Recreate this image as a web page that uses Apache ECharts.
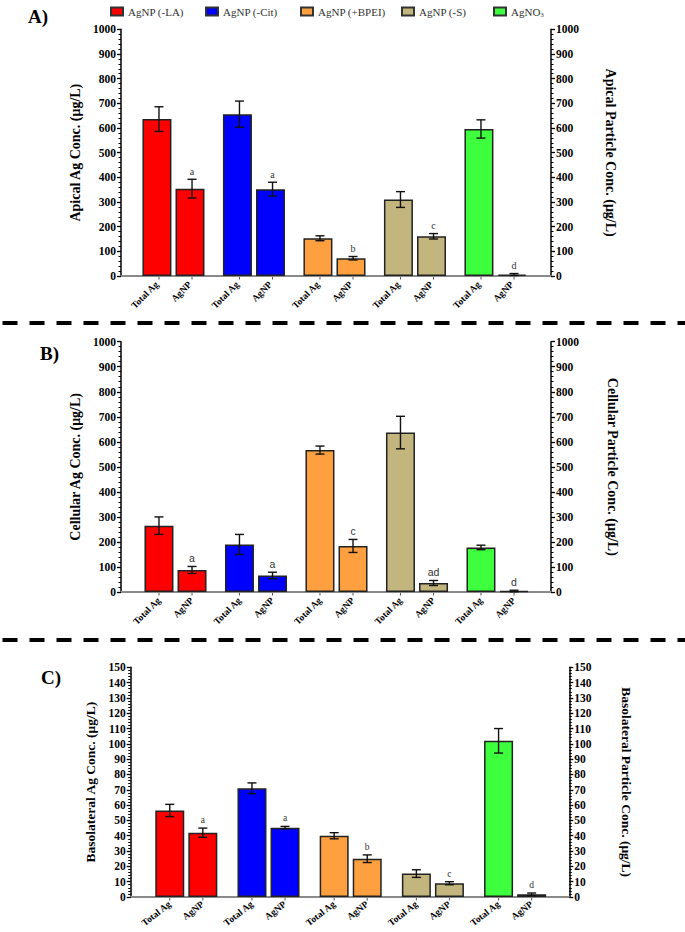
<!DOCTYPE html>
<html>
<head>
<meta charset="utf-8">
<script src="https://cdn.jsdelivr.net/npm/echarts@6/dist/echarts.min.js"></script>
<style>
html,body{margin:0;padding:0;background:#fff;}
#chart{width:685px;height:932px;}
</style>
</head>
<body>
<div id="chart"></div>
<script>
// ---------- DATA ----------
const groups = ['AgNP (-LA)', 'AgNP (-Cit)', 'AgNP (+BPEI)', 'AgNP (-S)', 'AgNO3'];
const barLabels = ['Total Ag', 'AgNP'];

const apicalTotal = [636, 656, 153, 310, 596];
const apicalTotalErr = [50, 53, 10, 32, 37];
const apicalNP = [354, 352, 72, 161, 6];
const apicalNPErr = [38, 28, 7, 11, 4];
const apicalLetters = ['a', 'a', 'b', 'c', 'd'];

const cellTotal = [265, 190, 567, 637, 178];
const cellTotalErr = [35, 40, 16, 65, 9];
const cellNP = [88, 66, 184, 36, 4];
const cellNPErr = [14, 13, 26, 10, 3];
const cellLetters = ['a', 'a', 'c', 'ad', 'd'];

const basoTotal = [56.5, 71, 40, 15.3, 102];
const basoTotalErr = [4, 3.5, 2, 2.5, 8];
const basoNP = [42, 45.3, 25, 9, 1.8];
const basoNPErr = [3, 0.8, 2.5, 1, 0.8];
const basoLetters = ['a', 'a', 'b', 'c', 'd'];

const tickMaxAB = 1000, tickStepAB = 100;
const tickMaxC = 150, tickStepC = 10;

// ---------- STYLE ----------
const colors = ['#FF0000', '#0000FF', '#FFA040', '#C2B57D', '#3EFF3E'];
const SERIF = '"Liberation Serif", "Times New Roman", serif';
const SANS = '"Liberation Sans", Arial, sans-serif';
const BAR_W = 29;

const panels = [
  { frameL: 121, frameR: 551, barL: 135.25, barR: 537.75, top: 29.3, zero: 276,
    max: tickMaxAB, step: tickStepAB, total: apicalTotal, totalErr: apicalTotalErr,
    np: apicalNP, npErr: apicalNPErr, letters: apicalLetters, letterFont: SERIF, letterSize: 10,
    xRot: 45, xSize: 9.5, xDist: 7,
    nameL: 'Apical Ag Conc. (μg/L)', nameR: 'Apical Particle Conc. (μg/L)', gapL: 27, gapR: 52, nameSize: 14 },
  { frameL: 121, frameR: 551, barL: 135.25, barR: 537.75, top: 341.7, zero: 592,
    max: tickMaxAB, step: tickStepAB, total: cellTotal, totalErr: cellTotalErr,
    np: cellNP, npErr: cellNPErr, letters: cellLetters, letterFont: SANS, letterSize: 10.5,
    xRot: 45, xSize: 9.5, xDist: 7,
    nameL: 'Cellular Ag Conc. (μg/L)', nameR: 'Cellular Particle Conc. (μg/L)', gapL: 27, gapR: 54, nameSize: 14 },
  { frameL: 130.7, frameR: 569.3, barL: 145.2, barR: 556.2, top: 667.3, zero: 897,
    max: tickMaxC, step: tickStepC, total: basoTotal, totalErr: basoTotalErr,
    np: basoNP, npErr: basoNPErr, letters: basoLetters, letterFont: SERIF, letterSize: 9.5,
    xRot: 38, xSize: 9.5, xDist: 6,
    nameL: 'Basolateral Ag Conc. (μg/L)', nameR: 'Basolateral Particle Conc. (μg/L)', gapL: 25, gapR: 50, nameSize: 13.5 }
];

const H = 932, W = 685;
const grid = [], xAxis = [], yAxis = [], series = [];

const yLabel = { color: '#000', fontFamily: SERIF, fontWeight: 'bold', fontSize: 11.5, margin: 5,
  formatter: (v) => String(v) };
const nameStyle = (s) => ({ color: '#000', fontFamily: SERIF, fontWeight: 'bold', fontSize: s });

panels.forEach((p, k) => {
  const gFrame = grid.length;
  grid.push({ left: p.frameL, right: W - p.frameR, top: p.top, bottom: H - p.zero, containLabel: false });
  const gBars = grid.length;
  grid.push({ left: p.barL, right: W - p.barR, top: p.top, bottom: H - p.zero, containLabel: false });

  // frame x axis (baseline)
  xAxis.push({ gridIndex: gFrame, type: 'value', min: 0, max: 1,
    axisLine: { show: true, lineStyle: { color: '#8a8a8a', width: 2 } },
    axisTick: { show: false }, axisLabel: { show: false }, splitLine: { show: false } });
  const xBars = xAxis.length;
  xAxis.push({ gridIndex: gBars, type: 'category', data: groups,
    axisLine: { show: false }, axisTick: { show: false }, axisLabel: { show: false }, splitLine: { show: false } });

  const common = {
    type: 'value', min: 0, max: p.max, interval: p.step,
    splitLine: { show: false },
    axisLine: { show: true, lineStyle: { color: '#000', width: 1.5 } },
    axisTick: { show: true, length: 4, lineStyle: { color: '#000', width: 1.3 } },
    minorTick: { show: true, splitNumber: 5, length: 2.5, lineStyle: { color: '#000', width: 1 } },
    axisLabel: yLabel,
    nameLocation: 'middle', nameTextStyle: nameStyle(p.nameSize)
  };
  yAxis.push(Object.assign({}, common, { gridIndex: gFrame, position: 'left', name: p.nameL, nameGap: p.gapL }));
  yAxis.push(Object.assign({}, common, { gridIndex: gFrame, position: 'right', name: p.nameR, nameGap: p.gapR, nameRotate: -90 }));
  const yBars = yAxis.length;
  yAxis.push({ gridIndex: gBars, type: 'value', min: 0, max: p.max, show: false });

  const lbl = (txt) => ({ show: true, position: 'bottom', distance: p.xDist, rotate: p.xRot, align: 'right',
    verticalAlign: 'middle', formatter: txt, color: '#000', fontFamily: SERIF, fontWeight: 'bold', fontSize: p.xSize });

  series.push({ type: 'bar', name: barLabels[0], xAxisIndex: xBars, yAxisIndex: yBars,
    barWidth: BAR_W, barGap: '14%', silent: true,
    data: p.total.map((v, i) => ({ value: v, itemStyle: { color: colors[i] } })),
    itemStyle: { borderColor: '#222', borderWidth: 1.5 }, label: lbl(barLabels[0]) });
  series.push({ type: 'bar', name: barLabels[1], xAxisIndex: xBars, yAxisIndex: yBars,
    barWidth: BAR_W, barGap: '14%', silent: true,
    data: p.np.map((v, i) => ({ value: v, itemStyle: { color: colors[i] } })),
    itemStyle: { borderColor: '#222', borderWidth: 1.5 }, label: lbl(barLabels[1]) });

  const half = (BAR_W * 1.14) / 2;
  series.push({ type: 'custom', xAxisIndex: xBars, yAxisIndex: yBars, clip: false, silent: true, z: 5,
    data: p.total.map((v, i) => [i, v, p.totalErr[i], p.np[i], p.npErr[i]]),
    renderItem: function (params, api) {
      const i = api.value(0);
      const base = api.coord([i, 0]);
      const kids = [];
      [[api.value(1), api.value(2), -1], [api.value(3), api.value(4), 1]].forEach(function (it, j) {
        const x = base[0] + it[2] * half;
        const yt = api.coord([i, it[0] + it[1]])[1];
        const yb = api.coord([i, Math.max(it[0] - it[1], 0)])[1];
        const ls = { stroke: '#111', lineWidth: 1.4 };
        kids.push({ type: 'line', shape: { x1: x, y1: yt, x2: x, y2: yb }, style: ls });
        kids.push({ type: 'line', shape: { x1: x - 4.5, y1: yt, x2: x + 4.5, y2: yt }, style: ls });
        kids.push({ type: 'line', shape: { x1: x - 4.5, y1: yb, x2: x + 4.5, y2: yb }, style: ls });
        kids.push({ type: 'line', shape: { x1: x, y1: base[1] + 1, x2: x, y2: base[1] + 3.5 }, style: { stroke: '#555', lineWidth: 1 } });
        if (j === 1) {
          kids.push({ type: 'text', x: x, y: yt - 3, style: { text: p.letters[params.dataIndex], fill: '#333',
            font: p.letterSize + 'px ' + p.letterFont, textAlign: 'center', textVerticalAlign: 'bottom' } });
        }
      });
      return { type: 'group', children: kids };
    } });
});

// legend dummy series (panel A)
groups.forEach((g, i) => {
  series.push({ type: 'bar', name: g, xAxisIndex: 1, yAxisIndex: 2, data: [],
    itemStyle: { color: colors[i], borderColor: '#333', borderWidth: 1 } });
});
const legendLeft = [105, 200, 295, 396, 488];
const legend = groups.map((g, i) => ({
  data: [{ name: g, icon: 'rect' }], left: legendLeft[i], top: 1, itemWidth: 12, itemHeight: 8,
  selectedMode: false,
  formatter: (n) => n === 'AgNO3' ? 'AgNO{s|3}' : n,
  textStyle: { color: '#333', fontFamily: SERIF, fontSize: 11,
    rich: { s: { fontFamily: SERIF, fontSize: 7, verticalAlign: 'bottom', padding: [6, 0, 0, 0], color: '#333' } } }
}));

const titleStyle = { color: '#000', fontFamily: SERIF, fontWeight: 'bold', fontSize: 19 };
const title = [
  { text: 'A)', left: 23, top: 2, textStyle: titleStyle },
  { text: 'B)', left: 35, top: 339, textStyle: titleStyle },
  { text: 'C)', left: 36, top: 663, textStyle: titleStyle }
];

const dash = (y) => ({ type: 'line', shape: { x1: 2.5, y1: y, x2: 685, y2: y },
  style: { stroke: '#000', lineWidth: 4, lineDash: [15, 12] } });

const chart = echarts.init(document.getElementById('chart'), null, { renderer: 'svg' });
chart.setOption({
  backgroundColor: '#fff',
  animation: false,
  title: title,
  legend: legend,
  grid: grid,
  xAxis: xAxis,
  yAxis: yAxis,
  series: series,
  graphic: [dash(323), dash(640)]
});
</script>
</body>
</html>
